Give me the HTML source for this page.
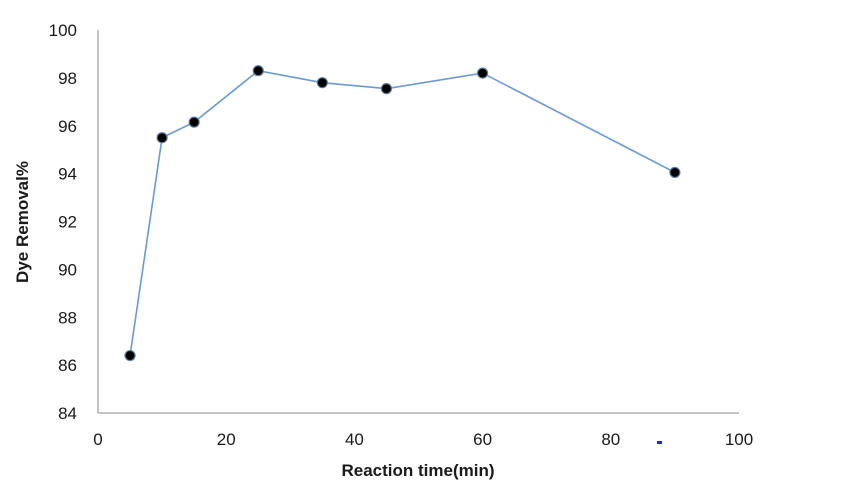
<!DOCTYPE html>
<html><head><meta charset="utf-8"><style>
body{margin:0;background:#fff;}
svg text{font-family:"Liberation Sans",Calibri,sans-serif;fill:#1a1a1a;}
</style></head><body>
<svg width="852" height="490" xmlns="http://www.w3.org/2000/svg">
<g id="g"></g>
</svg>
<script>
const xs=[5,10,15,25,35,45,60,90];
const ys=[86.4,95.5,96.15,98.3,97.8,97.55,98.2,94.05];
const xTicks=[0,20,40,60,80,100];
const yTicks=[84,86,88,90,92,94,96,98,100];
const X0=98,X1=739,Y0=413,Y1=30;
const sx=v=>X0+(v-0)/100*(X1-X0);
const sy=v=>Y0-(v-84)/16*(Y0-Y1);
const g=document.getElementById('g');
const NS='http://www.w3.org/2000/svg';
function mk(t,a){const e=document.createElementNS(NS,t);for(const k in a)e.setAttribute(k,a[k]);g.appendChild(e);return e;}
let e;
e=mk('line',{x1:X0,y1:Y1,x2:X0,y2:Y0,stroke:'#b0b0b0','stroke-width':1.5});


e=mk('line',{x1:X0,y1:Y0,x2:X1,y2:Y0,stroke:'#b0b0b0','stroke-width':1.5});


yTicks.forEach(v=>{e=mk('text',{x:77,y:sy(v)+6,'text-anchor':'end','font-size':17});e.textContent=v;

});
xTicks.forEach(v=>{e=mk('text',{x:sx(v),y:445,'text-anchor':'middle','font-size':17});e.textContent=v;

});
e=mk('polyline',{points:xs.map((x,i)=>sx(x)+','+sy(ys[i])).join(' '),fill:'none',stroke:'#6a9bd0','stroke-width':1.6});


xs.forEach((x,i)=>{e=mk('circle',{cx:sx(x),cy:sy(ys[i]),r:5,fill:'#000','stroke':'#5d7a9a','stroke-width':1.2});

});
e=mk('text',{x:418,y:476,'text-anchor':'middle','font-size':17,'font-weight':'bold'});e.textContent='Reaction time(min)';


e=mk('text',{x:0,y:0,'text-anchor':'middle','font-size':17,'font-weight':'bold',transform:'translate(28,222) rotate(-90)'});e.textContent='Dye Removal%';


e=mk('rect',{x:657,y:441,width:5,height:3,fill:'#1a2fd0'});


</script>
</body></html>
